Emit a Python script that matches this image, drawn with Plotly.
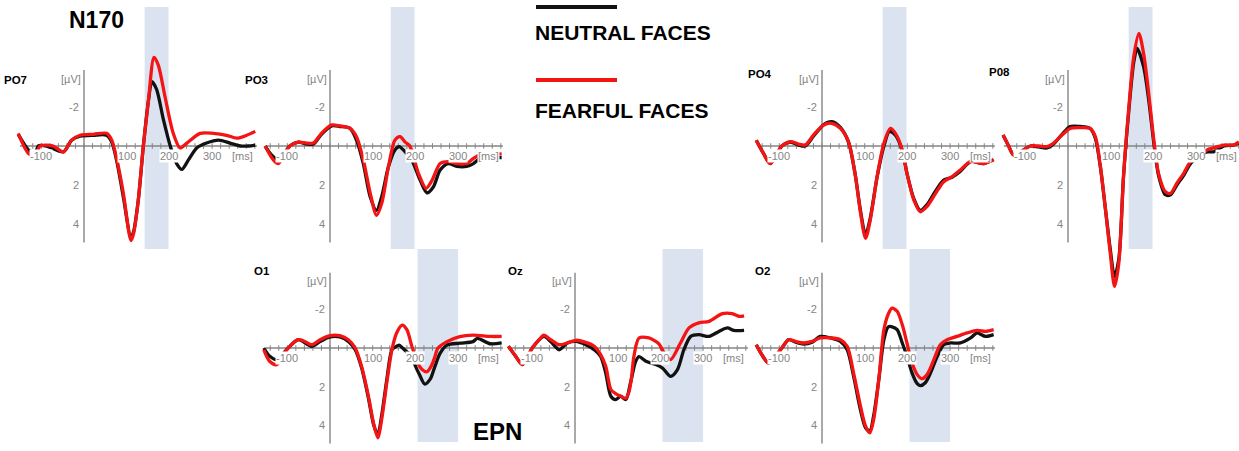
import plotly.graph_objects as go

# ---------------- DATA (ms, µV; negative up as in ERP convention) ----------------
PO7_T_NEU = [-154, -130, -115, -107, -88, -48, -29, -9, 22, 53, 65, 77, 92, 110, 116, 127, 139, 151, 159, 170, 186, 202, 217, 229, 245, 264, 287, 315, 342, 366, 385, 401]
PO7_NEU = [-0.6, 0.2, 0.4, 0.0, 0.0, 0.3, -0.3, -0.5, -0.55, -0.55, -0.2, 0.8, 2.6, 4.7, 4.4, 2.8, 0.0, -2.35, -3.3, -2.9, -1.35, 0.0, 0.9, 1.2, 0.7, 0.1, -0.15, -0.3, -0.15, 0.0, 0.0, -0.05]
PO7_T_FEA = [-154, -130, -115, -103, -88, -72, -48, -29, -9, 22, 53, 65, 77, 92, 110, 116, 127, 139, 151, 164, 174, 190, 209, 225, 241, 272, 303, 334, 358, 381, 401]
PO7_FEA = [-0.65, 0.38, 0.5, 0.0, -0.05, 0.0, 0.3, -0.3, -0.55, -0.6, -0.65, -0.3, 0.7, 2.4, 4.85, 4.5, 2.8, 0.0, -2.35, -4.55, -4.15, -2.5, -0.65, 0.1, -0.15, -0.65, -0.65, -0.55, -0.4, -0.55, -0.75]

PO3_T_NEU = [-152, -137, -121, -94, -74, -55, -39, -20, 4, 23, 47, 62, 78, 94, 109, 121, 137, 152, 162, 176, 191, 211, 227, 242, 258, 277, 297, 320, 336, 352, 375, 402]
PO3_NEU = [0.0, 0.46, 0.7, 0.0, -0.2, -0.1, -0.1, -0.6, -1.03, -1.0, -0.9, -0.3, 0.9, 2.6, 3.3, 2.6, 1.05, 0.2, 0.03, 0.3, 0.7, 1.75, 2.4, 2.1, 1.23, 0.9, 1.05, 1.05, 0.9, 0.63, 0.6, 0.6]
PO3_T_FEA = [-152, -133, -121, -94, -74, -55, -39, -20, 4, 23, 47, 62, 78, 94, 109, 121, 137, 152, 164, 176, 187, 207, 225, 238, 258, 277, 297, 320, 336, 352, 375, 402]
PO3_FEA = [0.0, 0.7, 0.9, 0.0, -0.2, -0.15, -0.15, -0.65, -1.08, -1.03, -0.9, -0.48, 0.7, 2.4, 3.55, 2.95, 1.05, -0.3, -0.48, -0.2, 0.0, 1.4, 2.17, 1.8, 0.9, 0.8, 0.9, 0.9, 0.63, 0.46, 0.45, 0.4]

PO4_T_NEU = [-154, -137, -121, -94, -74, -55, -39, -20, 4, 23, 43, 62, 78, 90, 102, 113, 129, 145, 158, 172, 188, 199, 215, 230, 246, 266, 285, 305, 324, 348, 379, 402]
PO4_NEU = [-0.3, 0.38, 0.9, 0.0, -0.2, -0.05, 0.0, -0.5, -1.1, -1.25, -0.95, -0.2, 1.5, 3.3, 4.55, 3.7, 1.6, 0.0, -0.75, -0.55, 0.25, 1.4, 2.7, 3.3, 3.0, 2.3, 1.75, 1.6, 1.3, 0.8, 0.9, 0.7]
PO4_T_FEA = [-154, -137, -121, -94, -74, -55, -39, -20, 4, 23, 43, 62, 78, 90, 102, 113, 129, 145, 160, 172, 188, 199, 215, 230, 246, 266, 285, 305, 324, 348, 379, 402]
PO4_FEA = [-0.3, 0.38, 0.9, 0.0, -0.22, -0.1, -0.05, -0.56, -1.08, -1.16, -0.9, -0.22, 1.5, 3.4, 4.73, 3.8, 1.57, -0.14, -0.9, -0.65, 0.2, 1.4, 2.77, 3.37, 3.1, 2.43, 1.83, 1.57, 1.23, 0.8, 0.9, 0.7]

P08_T_NEU = [-152, -139, -127, -88, -69, -49, -34, -14, 5, 29, 52, 64, 76, 87, 99, 109, 119, 130, 142, 154, 162, 177, 189, 201, 212, 228, 240, 255, 271, 287, 310, 326, 341, 365, 388, 400]
P08_NEU = [-0.56, 0.0, 0.46, 0.0, 0.05, 0.1, -0.1, -0.6, -1.0, -1.0, -0.9, -0.4, 1.1, 3.1, 5.3, 6.7, 5.8, 1.57, -1.7, -4.3, -5.0, -4.07, -2.36, -0.14, 1.5, 2.5, 2.5, 2.0, 1.5, 0.9, 0.5, 0.3, 0.3, 0.0, -0.05, -0.15]
P08_T_FEA = [-152, -139, -127, -88, -69, -49, -34, -14, 5, 29, 52, 64, 76, 87, 99, 109, 119, 130, 142, 154, 166, 177, 189, 201, 212, 228, 240, 255, 271, 287, 310, 326, 341, 365, 388, 400]
P08_FEA = [-0.56, 0.0, 0.46, 0.0, 0.0, 0.03, -0.14, -0.56, -0.9, -0.94, -0.9, -0.48, 1.06, 3.1, 5.5, 7.2, 6.0, 1.57, -1.85, -4.58, -5.78, -4.75, -2.7, -0.3, 1.4, 2.34, 2.43, 1.9, 1.4, 0.8, 0.5, 0.2, 0.1, -0.05, -0.05, -0.22]

O1_T_NEU = [-155, -141, -125, -98, -74, -43, -23, 0, 23, 43, 59, 74, 90, 102, 112, 121, 133, 145, 153, 162, 170, 180, 192, 199, 210, 222, 235, 245, 258, 274, 304, 335, 345, 375, 402]
O1_NEU = [0.0, 0.43, 0.6, 0.0, -0.43, -0.09, -0.34, -0.57, -0.57, -0.34, 0.09, 1.03, 2.6, 3.96, 4.48, 3.5, 1.64, 0.09, -0.05, -0.15, 0.0, 0.2, 0.4, 0.88, 1.4, 1.87, 1.6, 1.0, 0.27, -0.15, -0.25, -0.33, -0.5, -0.22, -0.26]
O1_T_FEA = [-155, -141, -125, -98, -74, -59, -43, -23, 0, 23, 43, 59, 74, 90, 102, 112, 121, 133, 145, 156, 169, 180, 192, 206, 215, 227, 238, 245, 253, 274, 304, 335, 375, 402]
O1_FEA = [0.1, 0.7, 0.86, 0.0, -0.43, -0.34, -0.17, -0.43, -0.64, -0.64, -0.43, 0.0, 0.95, 2.5, 3.9, 4.65, 3.7, 1.8, 0.09, -0.78, -1.19, -0.95, -0.07, 0.8, 1.1, 1.23, 0.9, 0.5, 0.0, -0.33, -0.59, -0.67, -0.6, -0.6]

OZ_T_NEU = [-156, -139, -123, -100, -73, -57, -37, -18, 2, 25, 45, 60, 72, 84, 95, 107, 119, 130, 142, 150, 166, 189, 205, 224, 240, 255, 271, 290, 314, 337, 357, 372, 396]
OZ_NEU = [-0.09, 0.43, 0.86, 0.0, -0.6, -0.34, 0.09, -0.26, -0.34, -0.17, 0.09, 0.43, 1.3, 2.5, 2.67, 2.5, 2.67, 1.8, 0.7, 0.45, 0.69, 0.86, 1.04, 1.47, 1.12, 0.09, -0.6, -0.69, -0.6, -0.86, -1.04, -0.91, -0.91]
OZ_T_FEA = [-156, -139, -123, -100, -84, -73, -57, -37, -18, 2, 25, 45, 60, 72, 84, 95, 107, 119, 126, 132, 138, 150, 173, 189, 197, 209, 224, 247, 267, 290, 314, 345, 368, 384, 396]
OZ_FEA = [-0.09, 0.43, 0.86, 0.0, -0.43, -0.66, -0.43, -0.17, -0.26, -0.4, -0.29, -0.09, 0.34, 0.95, 2.15, 2.36, 2.5, 2.6, 2.3, 1.6, 0.43, -0.52, -0.52, -0.34, -0.2, 0.26, 0.6, -0.26, -1.04, -1.3, -1.38, -1.78, -1.78, -1.64, -1.67]

O2_T_NEU = [-154, -141, -125, -94, -78, -62, -43, -23, -4, 20, 43, 59, 74, 90, 102, 112, 121, 133, 145, 155, 164, 176, 188, 199, 211, 223, 230, 242, 254, 270, 285, 301, 324, 348, 363, 383, 402]
O2_NEU = [-0.17, 0.34, 0.78, 0.0, -0.43, -0.3, -0.2, -0.3, -0.6, -0.52, -0.34, 0.09, 1.46, 3.2, 4.13, 4.3, 3.5, 1.64, -0.43, -1.09, -1.1, -0.95, -0.26, 0.43, 1.3, 1.85, 1.95, 1.8, 1.3, 0.43, -0.17, -0.26, -0.26, -0.52, -0.78, -0.6, -0.69]
O2_T_FEA = [-154, -141, -125, -94, -78, -62, -43, -23, -4, 20, 43, 59, 74, 90, 102, 112, 121, 133, 145, 156, 164, 176, 188, 199, 211, 223, 234, 246, 262, 277, 293, 316, 340, 363, 383, 402]
O2_FEA = [-0.17, 0.34, 0.78, 0.0, -0.43, -0.34, -0.26, -0.34, -0.52, -0.52, -0.43, -0.09, 1.3, 3.0, 4.05, 4.4, 3.7, 1.64, -0.95, -1.8, -2.07, -1.9, -1.2, -0.26, 0.78, 1.38, 1.59, 1.38, 0.6, -0.17, -0.43, -0.6, -0.78, -0.91, -0.86, -0.95]

ELECTRODES = ["PO7", "PO3", "PO4", "P08", "O1", "Oz", "O2"]
N170_WINDOW = [142, 198]
EPN_WINDOW = [205, 300]
X_TICKS = [-100, 100, 200, 300]
Y_TICKS = [-2, 2, 4]
SERIES_NAMES = ["NEUTRAL FACES", "FEARFUL FACES"]

# ---------------- LAYOUT (pixel geometry) ----------------
W, H = 1239, 451
PPMS = 0.427          # px per ms
FONT = "Liberation Sans, Arial, sans-serif"
GREY = "#858585"
SHADE = "#dbe3f0"
BLACK = "#121212"
RED = "#f41414"

# name: (x0 px of 0 ms, y0 px of 0 µV, px per µV, label left px, label y px, window, shade top px, shade bottom px)
PANEL_GEOM = {
    "PO7": (84, 146, 19.5, 2, 80, N170_WINDOW, 7, 249),
    "PO3": (330, 146, 19.5, 243, 80, N170_WINDOW, 7, 249),
    "PO4": (822, 146, 19.5, 746, 74, N170_WINDOW, 7, 249),
    "P08": (1068, 146, 19.5, 987, 72, N170_WINDOW, 7, 249),
    "O1": (330, 348, 19.3, 252, 271, EPN_WINDOW, 249, 442),
    "Oz": (575, 348, 19.3, 506, 271, EPN_WINDOW, 249, 442),
    "O2": (822, 348, 19.3, 753, 271, EPN_WINDOW, 249, 442),
}
TRACES = {
    "PO7": (PO7_T_NEU, PO7_NEU, PO7_T_FEA, PO7_FEA),
    "PO3": (PO3_T_NEU, PO3_NEU, PO3_T_FEA, PO3_FEA),
    "PO4": (PO4_T_NEU, PO4_NEU, PO4_T_FEA, PO4_FEA),
    "P08": (P08_T_NEU, P08_NEU, P08_T_FEA, P08_FEA),
    "O1": (O1_T_NEU, O1_NEU, O1_T_FEA, O1_FEA),
    "Oz": (OZ_T_NEU, OZ_NEU, OZ_T_FEA, OZ_FEA),
    "O2": (O2_T_NEU, O2_NEU, O2_T_FEA, O2_FEA),
}

fig = go.Figure()
shapes, annotations = [], []
layout_axes = {}

AX_X0, AX_X1 = -150, 405     # zero line extent (ms)
AX_Y0, AX_Y1 = -3.9, 4.95    # vertical axis extent (µV)

for i, name in enumerate(ELECTRODES):
    x0, y0, ppu, lx, ly, win, st, sb = PANEL_GEOM[name]
    k = "" if i == 0 else str(i + 1)
    xa, ya = "x" + k, "y" + k
    layout_axes["xaxis" + k] = dict(domain=[0, 1], anchor=ya, visible=False, fixedrange=True,
                                    range=[-x0 / PPMS, (W - x0) / PPMS])
    layout_axes["yaxis" + k] = dict(domain=[0, 1], anchor=xa, visible=False, fixedrange=True,
                                    range=[(H - y0) / ppu, -y0 / ppu])
    # analysis window shading
    shapes.append(dict(type="rect", xref=xa, yref=ya, x0=win[0], x1=win[1],
                       y0=(st - y0) / ppu, y1=(sb - y0) / ppu,
                       fillcolor=SHADE, line=dict(width=0), layer="below"))
    # axes lines
    shapes.append(dict(type="line", xref=xa, yref=ya, x0=AX_X0, x1=AX_X1, y0=0, y1=0,
                       line=dict(color=GREY, width=1.4), layer="below"))
    shapes.append(dict(type="line", xref=xa, yref=ya, x0=0, x1=0, y0=AX_Y0, y1=AX_Y1,
                       line=dict(color=GREY, width=1.4), layer="below"))
    # minor tick marks along the zero line
    mt = list(range(-140, 405, 20))
    fig.add_trace(go.Scatter(x=mt, y=[0] * len(mt), xaxis=xa, yaxis=ya, mode="markers",
                             marker=dict(symbol="line-ns", size=4, line=dict(color=GREY, width=1)),
                             hoverinfo="skip", showlegend=False))
    tn, vn, tf, vf = TRACES[name]
    fig.add_trace(go.Scatter(x=tn, y=vn, xaxis=xa, yaxis=ya, mode="lines", name=SERIES_NAMES[0],
                             line=dict(color=BLACK, width=3.3, shape="spline", smoothing=0.8),
                             showlegend=False))
    fig.add_trace(go.Scatter(x=tf, y=vf, xaxis=xa, yaxis=ya, mode="lines", name=SERIES_NAMES[1],
                             line=dict(color=RED, width=3.3, shape="spline", smoothing=0.8),
                             showlegend=False))
    # x tick labels (white boxes occlude the curves, as in the original)
    for t in X_TICKS:
        annotations.append(dict(xref=xa, yref=ya, x=t, y=0, text=str(t), showarrow=False,
                                xanchor="center", yanchor="top", yshift=-3, bgcolor="white",
                                borderpad=0, font=dict(family=FONT, size=11, color=GREY)))
    annotations.append(dict(xref=xa, yref=ya, x=372, y=0, text="[ms]", showarrow=False,
                            xanchor="center", yanchor="top", yshift=-3, bgcolor="white",
                            borderpad=0, font=dict(family=FONT, size=11, color=GREY)))
    for v in Y_TICKS:
        annotations.append(dict(xref=xa, yref=ya, x=0, y=v, text=str(v), showarrow=False,
                                xanchor="right", yanchor="middle", xshift=-3,
                                font=dict(family=FONT, size=11, color=GREY)))
    annotations.append(dict(xref=xa, yref=ya, x=0, y=-3.45, text="[µV]", showarrow=False,
                            xanchor="right", yanchor="middle", xshift=-1,
                            font=dict(family=FONT, size=11, color=GREY)))
    # electrode label
    annotations.append(dict(xref="paper", yref="paper", x=lx / W, y=1 - ly / H, text="<b>%s</b>" % name,
                            showarrow=False, xanchor="left", yanchor="middle",
                            font=dict(family=FONT, size=11.5, color="black")))

# component titles
annotations.append(dict(xref="paper", yref="paper", x=96 / W, y=1 - 20 / H, text="<b>N170</b>",
                        showarrow=False, xanchor="center", yanchor="middle",
                        font=dict(family=FONT, size=23, color="black")))
annotations.append(dict(xref="paper", yref="paper", x=497 / W, y=1 - 431 / H, text="<b>EPN</b>",
                        showarrow=False, xanchor="center", yanchor="middle",
                        font=dict(family=FONT, size=24, color="black")))

# custom legend (line above text)
for (ly_line, ly_text, col, txt) in [(7, 33, BLACK, SERIES_NAMES[0]), (80, 110, RED, SERIES_NAMES[1])]:
    shapes.append(dict(type="line", xref="paper", yref="paper", x0=536 / W, x1=617 / W,
                       y0=1 - ly_line / H, y1=1 - ly_line / H, line=dict(color=col, width=4)))
    annotations.append(dict(xref="paper", yref="paper", x=533 / W, y=1 - ly_text / H,
                            text="<b>%s</b>" % txt, showarrow=False, xanchor="left", yanchor="middle",
                            font=dict(family=FONT, size=21, color="black")))

fig.update_layout(width=W, height=H, margin=dict(l=0, r=0, t=0, b=0),
                  paper_bgcolor="white", plot_bgcolor="rgba(0,0,0,0)",
                  shapes=shapes, annotations=annotations, showlegend=False, **layout_axes)

fig.write_html("out.html", config={"displayModeBar": False},
               post_script="document.body.style.margin='0px';document.body.style.padding='0px';")
